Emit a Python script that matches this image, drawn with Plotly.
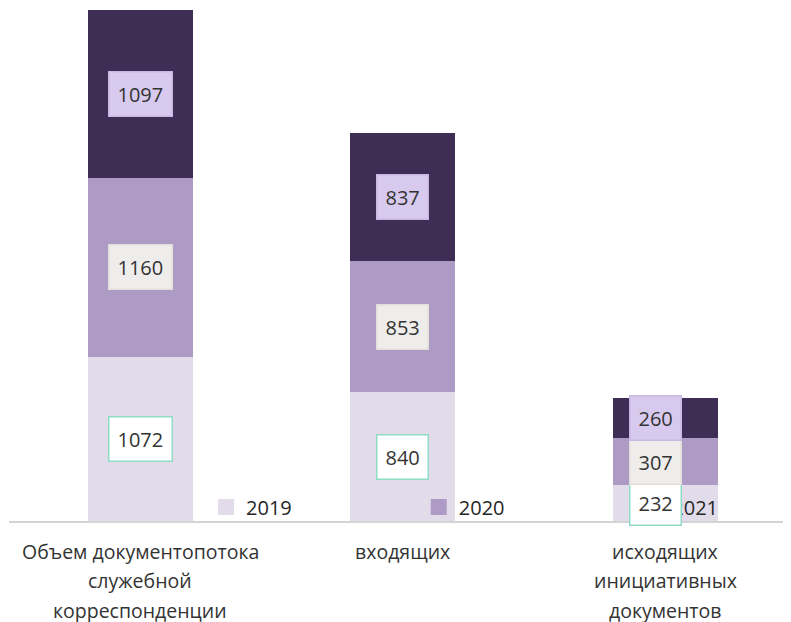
import plotly.graph_objects as go

categories = ["Объем документопотока\nслужебной\nкорреспонденции",
              "входящих",
              "исходящих\nинициативных\nдокументов"]
years = ["2019", "2020", "2021"]
v2019 = [1072, 840, 232]
v2020 = [1160, 853, 307]
v2021 = [1097, 837, 260]

series = [v2019, v2020, v2021]
bar_colors = ["#e2dcea", "#ad9bc6", "#3e2e56"]
label_bg = ["#ffffff", "#efedeb", "#d8caee"]
label_border = ["#8edcc5", "#e2ded9", "#c9b8e4"]
label_xshift = [0, 0, -10]
legend_ids = ["legend", "legend2", "legend3"]
legend_x = [0.252, 0.524, 0.797]

FONT = "Open Sans"
TXT = "#333333"

fig = go.Figure()
for yr, vals, col, lid in zip(years, series, bar_colors, legend_ids):
    fig.add_trace(go.Bar(x=categories, y=vals, name=yr, marker_color=col,
                         marker_line_width=0, width=0.4, showlegend=False))
    fig.add_trace(go.Scatter(x=[None], y=[None], mode="markers", name=yr,
                             marker=dict(symbol="square", size=16, color=col),
                             legend=lid, showlegend=True))

annotations = []
for i, cat in enumerate(categories):
    base = 0
    for s, vals in enumerate(series):
        v = vals[i]
        annotations.append(dict(
            x=cat, y=base + v / 2, xref="x", yref="y", text=str(v),
            showarrow=False, font=dict(family=FONT, size=20, color=TXT),
            bgcolor=label_bg[s], bordercolor=label_border[s], borderwidth=1.5,
            borderpad=8, xanchor="center", yanchor="middle",
            xshift=label_xshift[i]))
        base += v
    for k, line in enumerate(cat.split("\n")):
        annotations.append(dict(
            x=cat, y=0, xref="x", yref="paper", text=line, showarrow=False,
            font=dict(family=FONT, size=19.5, color=TXT),
            xanchor="center", yanchor="middle", yshift=-30 - 29.5 * k))

legend_common = dict(orientation="h", xanchor="left", y=0.0274, yanchor="middle",
                     bgcolor="rgba(0,0,0,0)", borderwidth=0,
                     font=dict(family=FONT, size=20, color="#262626"))

# page body adds an 8px offset, so the figure is sized to fit the 791x622 window
fig.update_layout(
    width=783, height=614,
    margin=dict(l=1, r=0, t=2, b=101, autoexpand=False),
    paper_bgcolor="white", plot_bgcolor="white",
    barmode="stack",
    showlegend=True,
    legend=dict(x=legend_x[0], **legend_common),
    legend2=dict(x=legend_x[1], **legend_common),
    legend3=dict(x=legend_x[2], **legend_common),
    xaxis=dict(range=[-0.5, 2.48], showticklabels=False, showgrid=False,
               showline=True, linecolor="#d4d4d4", linewidth=1.5, ticks="",
               zeroline=False, fixedrange=True),
    yaxis=dict(range=[0, 3330], visible=False, showgrid=False, zeroline=False),
    annotations=annotations,
)

fig.write_html("out.html")
